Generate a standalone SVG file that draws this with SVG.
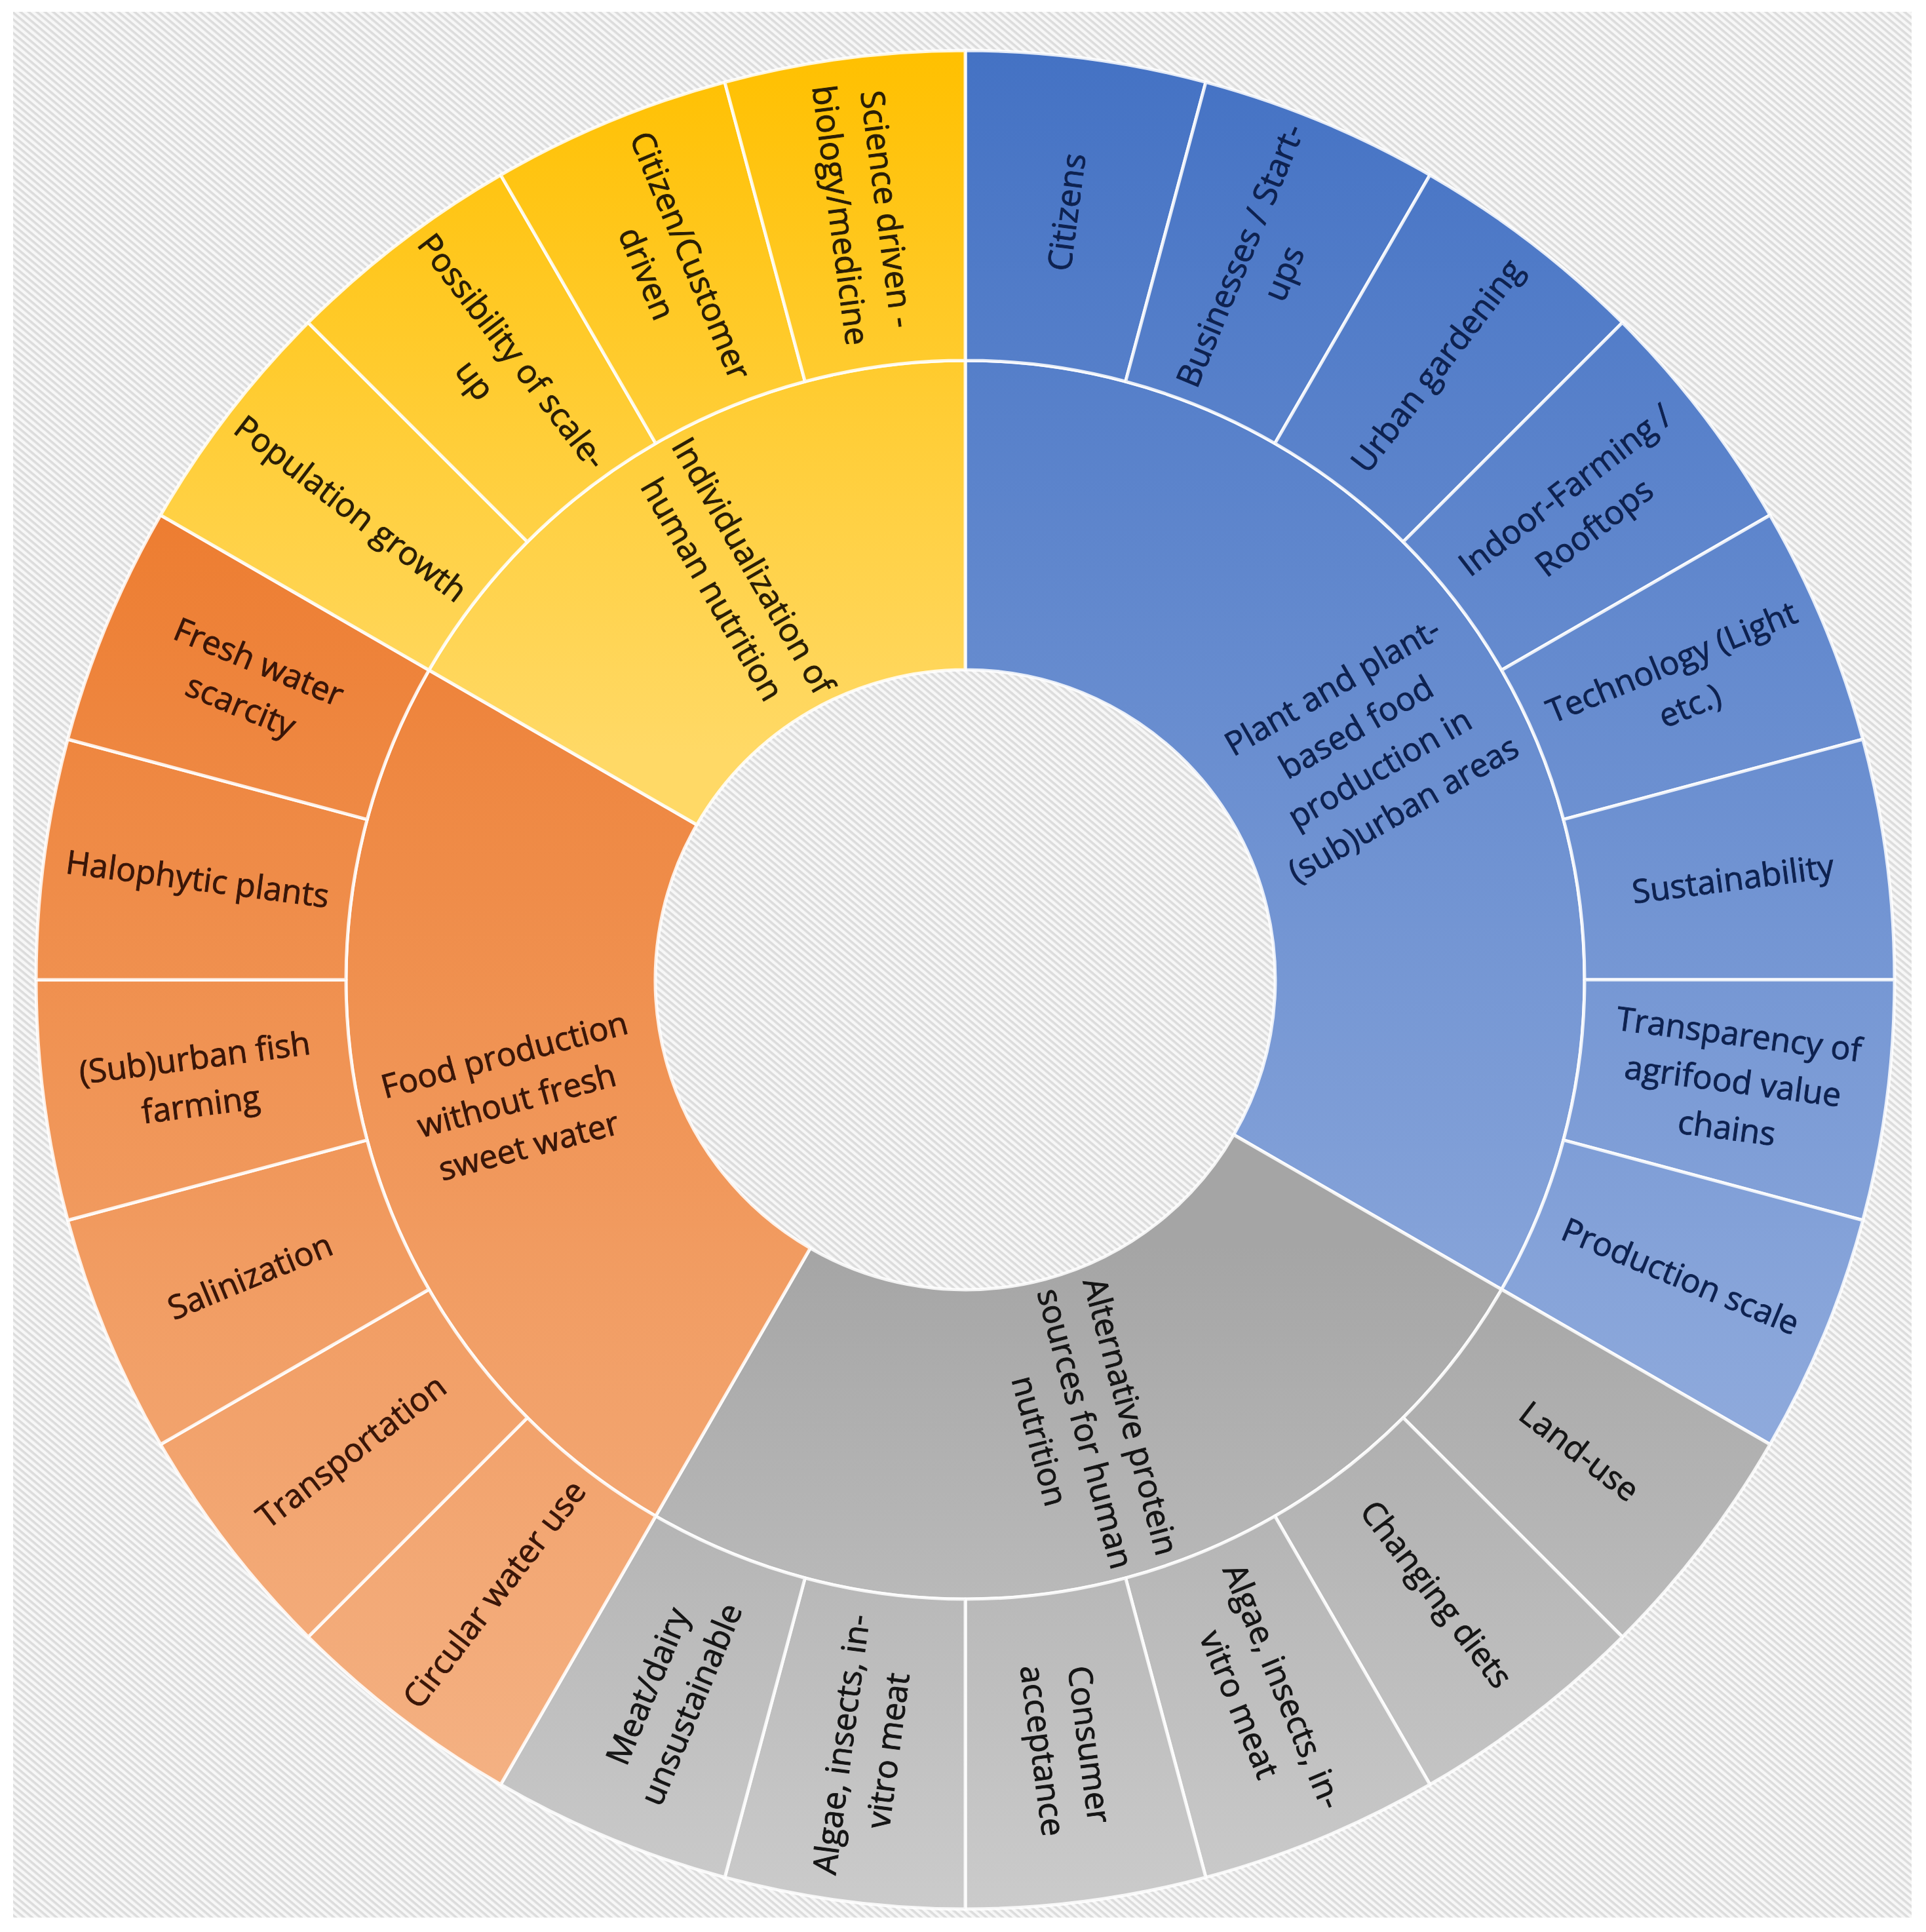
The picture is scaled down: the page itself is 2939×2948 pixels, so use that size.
<svg xmlns="http://www.w3.org/2000/svg" width="2939" height="2948" viewBox="0 0 2939 2948">
<defs>
<pattern id="hatch" patternUnits="userSpaceOnUse" width="8" height="8" patternTransform="rotate(40)">
<rect width="8" height="8" fill="#f7f7f7"/>
<rect width="8" height="3.6" fill="#dcdcdc"/>
</pattern>
<linearGradient id="gBlue" gradientUnits="userSpaceOnUse" x1="0" y1="77" x2="0" y2="2204"><stop offset="0" stop-color="#4472C4"/><stop offset="1" stop-color="#8FAADC"/></linearGradient>
<linearGradient id="gGray" gradientUnits="userSpaceOnUse" x1="0" y1="1900" x2="0" y2="2913"><stop offset="0" stop-color="#A5A5A5"/><stop offset="1" stop-color="#CBCBCB"/></linearGradient>
<linearGradient id="gOrange" gradientUnits="userSpaceOnUse" x1="0" y1="786" x2="0" y2="2723"><stop offset="0" stop-color="#ED7D31"/><stop offset="1" stop-color="#F4B183"/></linearGradient>
<linearGradient id="gYellow" gradientUnits="userSpaceOnUse" x1="0" y1="77" x2="0" y2="1150"><stop offset="0" stop-color="#FFC000"/><stop offset="1" stop-color="#FFD966"/></linearGradient>
</defs>
<style>
.seg{stroke:#ffffff;stroke-opacity:0.85;stroke-width:5;stroke-linejoin:round}
.b{fill:url(#gBlue)} .g{fill:url(#gGray)} .o{fill:url(#gOrange)} .y{fill:url(#gYellow)}
.t{font-family:"Open Sans","Noto Sans","DejaVu Sans",sans-serif;font-size:50px;text-anchor:middle;stroke-width:0.9px}
.tb{fill:#0e2250;stroke:#0e2250} .tg{fill:#151515;stroke:#151515} .to{fill:#3a1608;stroke:#3a1608} .ty{fill:#2a1e05;stroke:#2a1e05}
</style>
<rect x="0" y="0" width="2939" height="2948" fill="#ffffff"/>
<rect x="20" y="18" width="2897" height="2908" fill="url(#hatch)"/>

<g id="inner-blue"><path class="seg b" d="M1473,550 A945,945 0 0 1 2291.4,1967.5 L1882.6,1731.5 A473,473 0 0 0 1473,1022 Z"/>
<text class="t tb" transform="translate(2087 1140.5) rotate(-30)"><tspan x="0" y="-90">Plant and plant-</tspan><tspan x="0" y="-18">based food</tspan><tspan x="0" y="54">production in</tspan><tspan x="0" y="126">(sub)urban areas</tspan></text></g>
<g id="inner-gray"><path class="seg g" d="M2291.4,1967.5 A945,945 0 0 1 1000.5,2313.4 L1236.5,1904.6 A473,473 0 0 0 1882.6,1731.5 Z"/>
<text class="t tg" transform="translate(1656.5 2179.8) rotate(75)"><tspan x="0" y="-54">Alternative protein</tspan><tspan x="0" y="18">sources for human</tspan><tspan x="0" y="90">nutrition</tspan></text></g>
<g id="inner-orange"><path class="seg o" d="M1000.5,2313.4 A945,945 0 0 1 654.6,1022.5 L1063.4,1258.5 A473,473 0 0 0 1236.5,1904.6 Z"/>
<text class="t to" transform="translate(788.2 1678.5) rotate(-15)"><tspan x="0" y="-54">Food production</tspan><tspan x="0" y="18">without fresh</tspan><tspan x="0" y="90">sweet water</tspan></text></g>
<g id="inner-yellow"><path class="seg y" d="M654.6,1022.5 A945,945 0 0 1 1473,550 L1473,1022 A473,473 0 0 0 1063.4,1258.5 Z"/>
<text class="t ty" transform="translate(1118.5 881) rotate(60)"><tspan x="0" y="-18">Individualization of</tspan><tspan x="0" y="54">human nutrition</tspan></text></g>

<g id="citizens"><path class="seg b" d="M1473,77 A1418,1418 0 0 1 1840,125.3 L1717.6,582.2 A945,945 0 0 0 1473,550 Z"/>
<text class="t tb" transform="translate(1627.2 323.6) rotate(-82.5)"><tspan x="0" y="18">Citizens</tspan></text></g>
<g id="businesses"><path class="seg b" d="M1840,125.3 A1418,1418 0 0 1 2182,267 L1945.5,676.6 A945,945 0 0 0 1717.6,582.2 Z"/>
<text class="t tb" transform="translate(1925.1 403.4) rotate(-67.5)"><tspan x="0" y="-18">Businesses / Start-</tspan><tspan x="0" y="54">ups</tspan></text></g>
<g id="urban-gardening"><path class="seg b" d="M2182,267 A1418,1418 0 0 1 2475.7,492.3 L2141.2,826.8 A945,945 0 0 0 1945.5,676.6 Z"/>
<text class="t tb" transform="translate(2192.2 557.7) rotate(-52.5)"><tspan x="0" y="18">Urban gardening</tspan></text></g>
<g id="indoor-farming"><path class="seg b" d="M2475.7,492.3 A1418,1418 0 0 1 2701,786 L2291.4,1022.5 A945,945 0 0 0 2141.2,826.8 Z"/>
<text class="t tb" transform="translate(2410.3 775.8) rotate(-37.5)"><tspan x="0" y="-18">Indoor-Farming /</tspan><tspan x="0" y="54">Rooftops</tspan></text></g>
<g id="technology"><path class="seg b" d="M2701,786 A1418,1418 0 0 1 2842.7,1128 L2385.8,1250.4 A945,945 0 0 0 2291.4,1022.5 Z"/>
<text class="t tb" transform="translate(2564.6 1042.9) rotate(-22.5)"><tspan x="0" y="-18">Technology (Light</tspan><tspan x="0" y="54">etc.)</tspan></text></g>
<g id="sustainability"><path class="seg b" d="M2842.7,1128 A1418,1418 0 0 1 2891,1495 L2418,1495 A945,945 0 0 0 2385.8,1250.4 Z"/>
<text class="t tb" transform="translate(2644.4 1340.8) rotate(-7.5)"><tspan x="0" y="18">Sustainability</tspan></text></g>
<g id="transparency"><path class="seg b" d="M2891,1495 A1418,1418 0 0 1 2842.7,1862 L2385.8,1739.6 A945,945 0 0 0 2418,1495 Z"/>
<text class="t tb" transform="translate(2644.4 1649.2) rotate(7.5)"><tspan x="0" y="-54">Transparency of</tspan><tspan x="0" y="18">agrifood value</tspan><tspan x="0" y="90">chains</tspan></text></g>
<g id="production-scale"><path class="seg b" d="M2842.7,1862 A1418,1418 0 0 1 2701,2204 L2291.4,1967.5 A945,945 0 0 0 2385.8,1739.6 Z"/>
<text class="t tb" transform="translate(2564.6 1947.1) rotate(22.5)"><tspan x="0" y="18">Production scale</tspan></text></g>

<g id="land-use"><path class="seg g" d="M2701,2204 A1418,1418 0 0 1 2475.7,2497.7 L2141.2,2163.2 A945,945 0 0 0 2291.4,1967.5 Z"/>
<text class="t tg" transform="translate(2410.3 2214.2) rotate(37.5)"><tspan x="0" y="18">Land-use</tspan></text></g>
<g id="changing-diets"><path class="seg g" d="M2475.7,2497.7 A1418,1418 0 0 1 2182,2723 L1945.5,2313.4 A945,945 0 0 0 2141.2,2163.2 Z"/>
<text class="t tg" transform="translate(2192.2 2432.3) rotate(52.5)"><tspan x="0" y="18">Changing diets</tspan></text></g>
<g id="algae-1"><path class="seg g" d="M2182,2723 A1418,1418 0 0 1 1840,2864.7 L1717.6,2407.8 A945,945 0 0 0 1945.5,2313.4 Z"/>
<text class="t tg" transform="translate(1925.1 2586.6) rotate(67.5)"><tspan x="0" y="-18">Algae, insects, in-</tspan><tspan x="0" y="54">vitro meat</tspan></text></g>
<g id="consumer-acceptance"><path class="seg g" d="M1840,2864.7 A1418,1418 0 0 1 1473,2913 L1473,2440 A945,945 0 0 0 1717.6,2407.8 Z"/>
<text class="t tg" transform="translate(1627.2 2666.4) rotate(82.5)"><tspan x="0" y="-18">Consumer</tspan><tspan x="0" y="54">acceptance</tspan></text></g>
<g id="algae-2"><path class="seg g" d="M1473,2913 A1418,1418 0 0 1 1106,2864.7 L1228.4,2407.8 A945,945 0 0 0 1473,2440 Z"/>
<text class="t tg" transform="translate(1318.8 2666.4) rotate(-82.5)"><tspan x="0" y="-18">Algae, insects, in-</tspan><tspan x="0" y="54">vitro meat</tspan></text></g>
<g id="meat-dairy"><path class="seg g" d="M1106,2864.7 A1418,1418 0 0 1 764,2723 L1000.5,2313.4 A945,945 0 0 0 1228.4,2407.8 Z"/>
<text class="t tg" transform="translate(1020.9 2586.6) rotate(-67.5)"><tspan x="0" y="-18">Meat/dairy</tspan><tspan x="0" y="54">unsustainable</tspan></text></g>

<g id="circular-water"><path class="seg o" d="M764,2723 A1418,1418 0 0 1 470.3,2497.7 L804.8,2163.2 A945,945 0 0 0 1000.5,2313.4 Z"/>
<text class="t to" transform="translate(753.8 2432.3) rotate(-52.5)"><tspan x="0" y="18">Circular water use</tspan></text></g>
<g id="transportation"><path class="seg o" d="M470.3,2497.7 A1418,1418 0 0 1 245,2204 L654.6,1967.5 A945,945 0 0 0 804.8,2163.2 Z"/>
<text class="t to" transform="translate(535.7 2214.2) rotate(-37.5)"><tspan x="0" y="18">Transportation</tspan></text></g>
<g id="salinization"><path class="seg o" d="M245,2204 A1418,1418 0 0 1 103.3,1862 L560.2,1739.6 A945,945 0 0 0 654.6,1967.5 Z"/>
<text class="t to" transform="translate(381.4 1947.1) rotate(-22.5)"><tspan x="0" y="18">Salinization</tspan></text></g>
<g id="fish-farming"><path class="seg o" d="M103.3,1862 A1418,1418 0 0 1 55,1495 L528,1495 A945,945 0 0 0 560.2,1739.6 Z"/>
<text class="t to" transform="translate(301.6 1649.2) rotate(-7.5)"><tspan x="0" y="-18">(Sub)urban fish</tspan><tspan x="0" y="54">farming</tspan></text></g>
<g id="halophytic"><path class="seg o" d="M55,1495 A1418,1418 0 0 1 103.3,1128 L560.2,1250.4 A945,945 0 0 0 528,1495 Z"/>
<text class="t to" transform="translate(301.6 1340.8) rotate(7.5)"><tspan x="0" y="18">Halophytic plants</tspan></text></g>
<g id="fresh-water"><path class="seg o" d="M103.3,1128 A1418,1418 0 0 1 245,786 L654.6,1022.5 A945,945 0 0 0 560.2,1250.4 Z"/>
<text class="t to" transform="translate(381.4 1042.9) rotate(22.5)"><tspan x="0" y="-18">Fresh water</tspan><tspan x="0" y="54">scarcity</tspan></text></g>

<g id="population-growth"><path class="seg y" d="M245,786 A1418,1418 0 0 1 470.3,492.3 L804.8,826.8 A945,945 0 0 0 654.6,1022.5 Z"/>
<text class="t ty" transform="translate(535.7 775.8) rotate(37.5)"><tspan x="0" y="18">Population growth</tspan></text></g>
<g id="scale-up"><path class="seg y" d="M470.3,492.3 A1418,1418 0 0 1 764,267 L1000.5,676.6 A945,945 0 0 0 804.8,826.8 Z"/>
<text class="t ty" transform="translate(753.8 557.7) rotate(52.5)"><tspan x="0" y="-18">Possibility of scale-</tspan><tspan x="0" y="54">up</tspan></text></g>
<g id="citizen-customer"><path class="seg y" d="M764,267 A1418,1418 0 0 1 1106,125.3 L1228.4,582.2 A945,945 0 0 0 1000.5,676.6 Z"/>
<text class="t ty" transform="translate(1020.9 403.4) rotate(67.5)"><tspan x="0" y="-18">Citizen/Customer</tspan><tspan x="0" y="54">driven</tspan></text></g>
<g id="science-driven"><path class="seg y" d="M1106,125.3 A1418,1418 0 0 1 1473,77 L1473,550 A945,945 0 0 0 1228.4,582.2 Z"/>
<text class="t ty" transform="translate(1318.8 323.6) rotate(82.5)"><tspan x="0" y="-18">Science driven -</tspan><tspan x="0" y="54">biology/medicine</tspan></text></g>
<g id="connectors"/>
</svg>
